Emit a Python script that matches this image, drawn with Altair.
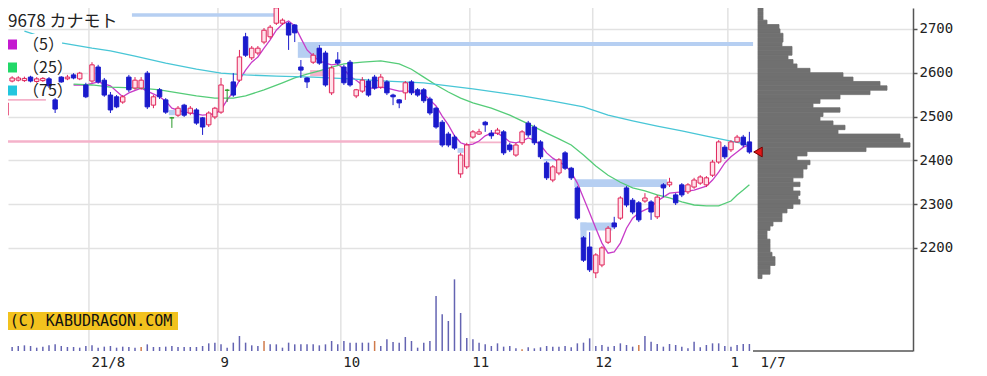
import altair as alt
import pandas as pd

# ---------------- data ----------------
ticker_code = "9678"
ticker_name = "カナモト"
watermark = "(C) KABUDRAGON.COM"

FIRST_IDX = -14  # trading-day index of first candle (0 = 2 Aug 2021)
opens = [2503, 2581, 2583, 2582, 2590, 2580, 2582, 2586, 2538, 2590, 2586, 2595, 2586, 2572,
         2581, 2613, 2583, 2549, 2545, 2533, 2590, 2565, 2565, 2599, 2526, 2561, 2538, 2497,
         2503, 2526, 2508, 2515, 2497, 2481, 2499,
         2510, 2560, 2579, 2583, 2682, 2634, 2645, 2670, 2682, 2713, 2713, 2713, 2709, 2613,
         2588, 2624, 2656, 2645, 2554, 2629,
         2613, 2624, 2547, 2558, 2581, 2590, 2567, 2579, 2549, 2538, 2554, 2579, 2561, 2561,
         2540, 2519, 2487, 2460, 2453, 2369, 2385,
         2453, 2460, 2487, 2462, 2462, 2465, 2435, 2412, 2440, 2485, 2476, 2442, 2394, 2355,
         2371, 2417, 2382, 2337, 2223, 2202,
         2143, 2161, 2213, 2257, 2268, 2337, 2309, 2303, 2307, 2305, 2271, 2344, 2344, 2321,
         2344, 2328, 2339, 2348, 2344, 2366, 2396, 2430,
         2424, 2442, 2453, 2442]
highs = [2549, 2592, 2592, 2591, 2593, 2590, 2590, 2590, 2542, 2592, 2595, 2599, 2602, 2577,
         2624, 2618, 2588, 2556, 2549, 2549, 2595, 2590, 2590, 2604, 2549, 2565, 2542, 2499,
         2524, 2529, 2524, 2519, 2499, 2512, 2522,
         2588, 2563, 2599, 2652, 2691, 2661, 2661, 2702, 2709, 2752, 2724, 2716, 2711, 2629,
         2590, 2645, 2663, 2650, 2615, 2647,
         2618, 2629, 2563, 2590, 2586, 2595, 2597, 2583, 2552, 2540, 2581, 2583, 2565, 2565,
         2545, 2522, 2492, 2465, 2458, 2417, 2440,
         2469, 2472, 2490, 2469, 2474, 2469, 2440, 2440, 2469, 2490, 2481, 2446, 2398, 2389,
         2405, 2421, 2385, 2341, 2227, 2236,
         2188, 2204, 2250, 2271, 2318, 2341, 2314, 2307, 2325, 2309, 2321, 2348, 2360, 2325,
         2348, 2348, 2360, 2366, 2364, 2401, 2446, 2435,
         2446, 2458, 2458, 2465]
lows = [2469, 2578, 2580, 2579, 2578, 2577, 2579, 2565, 2508, 2577, 2583, 2585, 2583, 2542,
        2577, 2575, 2545, 2508, 2519, 2529, 2556, 2561, 2561, 2517, 2519, 2540, 2506, 2474,
        2499, 2499, 2503, 2481, 2458, 2476, 2494,
        2506, 2533, 2545, 2579, 2636, 2629, 2640, 2665, 2677, 2709, 2709, 2652, 2670, 2588,
        2565, 2620, 2618, 2568, 2549, 2618,
        2572, 2568, 2542, 2554, 2545, 2561, 2563, 2549, 2526, 2519, 2538, 2549, 2545, 2531,
        2503, 2472, 2430, 2430, 2424, 2360, 2380,
        2449, 2458, 2465, 2449, 2458, 2412, 2419, 2408, 2435, 2453, 2435, 2403, 2355, 2350,
        2366, 2378, 2355, 2264, 2168, 2145,
        2131, 2156, 2209, 2243, 2264, 2293, 2277, 2259, 2303, 2264, 2266, 2316, 2339, 2298,
        2316, 2323, 2335, 2344, 2339, 2362, 2392, 2403,
        2419, 2440, 2430, 2415]
closes = [2531, 2588, 2588, 2587, 2581, 2586, 2587, 2570, 2517, 2579, 2590, 2588, 2599, 2545,
          2618, 2579, 2549, 2515, 2522, 2545, 2561, 2583, 2583, 2522, 2545, 2545, 2510, 2497,
          2519, 2503, 2519, 2485, 2476, 2508, 2519,
          2572, 2560, 2549, 2636, 2640, 2656, 2656, 2697, 2704, 2748, 2720, 2686, 2691, 2606,
          2579, 2640, 2622, 2572, 2611, 2622,
          2577, 2572, 2561, 2583, 2549, 2565, 2590, 2554, 2545, 2531, 2577, 2554, 2549, 2536,
          2508, 2476, 2435, 2435, 2428, 2412, 2435,
          2465, 2465, 2481, 2456, 2469, 2417, 2424, 2435, 2465, 2458, 2440, 2408, 2360, 2385,
          2401, 2382, 2360, 2268, 2172, 2150,
          2184, 2200, 2245, 2248, 2314, 2298, 2282, 2264, 2314, 2282, 2316, 2337, 2350, 2303,
          2321, 2344, 2355, 2362, 2360, 2396, 2442, 2408,
          2442, 2453, 2435, 2419]
volumes = [20, 12, 15, 17, 15, 10, 13, 17, 20, 15, 12, 12, 10, 15,
           17, 10, 13, 15, 10, 13, 12, 10, 12, 20, 12, 12, 13, 15, 12, 12, 12, 12, 15, 23, 25,
           20, 10, 25, 45, 25, 17, 15, 30, 20, 20, 10, 25, 20, 20, 20, 20, 17, 20, 30, 20,
           30, 25, 25, 25, 25, 30, 15, 35, 27, 25, 42, 30, 10, 25, 30, 165, 110, 90, 215, 114, 39,
           35, 25, 20, 15, 23, 13, 15, 8, 5, 11, 8, 11, 15, 13, 13, 15, 11, 23, 25, 38,
           15, 18, 13, 15, 23, 18, 13, 18, 45, 28, 21, 13, 21, 18, 13, 8, 28, 11, 18, 23, 23, 15,
           13, 18, 21, 21]
vol_highlight_idx = [-14, 8, 28, 46, 70, 89]

# month starts (trading-day index) and their labels; last date label
month_start_idx = [0, 21, 41, 62, 82, 104]
month_labels = ["21/8", "9", "10", "11", "12", "1"]
last_date_label = "1/7"

# moving averages: (index, value)
ma5_idx = [-3, -1, 1, 3, 5, 6, 8, 9, 11, 12, 13, 15, 16, 18, 20, 21, 22, 23, 24, 25, 26, 27, 28,
           29, 30, 31, 32, 33, 34, 35, 36, 37, 38, 39, 40, 41, 42, 43, 44, 45, 46, 47, 48, 50, 52,
           54, 55, 56, 57, 58, 59, 60, 61, 62, 63, 64, 65, 66, 67, 68, 69, 70, 71, 72, 73, 74, 75,
           76, 77, 78, 79, 80, 81, 82, 83, 84, 85, 86, 87, 88, 89, 90, 91, 92, 93, 94, 96, 98, 100,
           101, 102, 103, 104, 105, 106, 107]
ma5_val = [2572, 2572, 2579, 2570, 2545, 2554, 2565, 2558, 2545, 2535, 2519, 2510, 2508, 2503,
           2506, 2515, 2538, 2556, 2583, 2606, 2624, 2636, 2656, 2675, 2697, 2711, 2718, 2707,
           2679, 2652, 2638, 2627, 2622, 2618, 2620, 2608, 2592, 2583, 2572, 2565, 2565, 2567,
           2565, 2558, 2558, 2551, 2538, 2524, 2501, 2481, 2456, 2440, 2435, 2437, 2444, 2456,
           2462, 2462, 2453, 2442, 2440, 2444, 2451, 2446, 2435, 2417, 2405, 2396, 2389, 2373,
           2348, 2314, 2280, 2245, 2211, 2188, 2191, 2211, 2245, 2268, 2280, 2287, 2293, 2307,
           2316, 2325, 2328, 2332, 2341, 2355, 2373, 2394, 2408, 2419, 2430, 2435]
ma25_idx = [-3, 0, 3, 8, 11, 14, 17, 20, 23, 25, 28, 31, 33, 35, 37, 39, 41, 44, 47, 50, 52, 54,
            56, 58, 60, 62, 65, 68, 71, 74, 76, 78, 80, 82, 84, 86, 88, 90, 92, 94, 96, 98, 100,
            102, 104, 105, 106, 107]
ma25_val = [2574, 2572, 2567, 2565, 2561, 2554, 2547, 2542, 2542, 2547, 2561, 2577, 2588, 2597,
            2604, 2613, 2620, 2624, 2627, 2620, 2608, 2590, 2572, 2556, 2542, 2531, 2519, 2503,
            2483, 2462, 2449, 2435, 2412, 2387, 2366, 2350, 2337, 2330, 2321, 2314, 2305, 2298,
            2296, 2296, 2307, 2321, 2332, 2344]
ma75_idx = [-11, -9, -5, 0, 3, 7, 12, 17, 21, 25, 30, 36, 42, 48, 54, 62, 70, 75, 80, 84, 88, 92,
            96, 100, 104, 107]
ma75_val = [2695, 2686, 2668, 2656, 2650, 2638, 2622, 2608, 2599, 2595, 2592, 2590, 2586, 2581,
            2577, 2563, 2547, 2535, 2522, 2503, 2490, 2478, 2467, 2455, 2444, 2435]

# gap / resistance bands: start idx, end idx, low price, high price, kind
band_start = [6.5, 33.5, 36.8, -15, -15, 35.5, 59.5, 78.5, 79.5, 79.5, 12.5, 73.5, 61.5, -15]
band_end = [30, 36.8, 107.6, 56.6, -7.5, 38.5, 60.5, 93.6, 84.7, 80.5, 13.5, 77, 67.5, -13.5]
band_lo = [2728, 2634, 2661, 2440, 2536, 2592, 2417, 2339, 2240, 2220, 2503, 2398, 2439, 2577]
band_hi = [2736, 2670, 2670, 2446, 2540, 2606, 2428, 2357, 2258, 2258, 2515, 2403, 2443, 2588]
band_kind = ["down", "down", "down", "up", "up", "up", "down", "down", "down", "down", "down",
             "down", "up", "down"]

# price-volume profile: bin lower price (10 yen bins) and volume at price
profile_lo = list(range(2740, 2120, -10))
profile_vol = [50, 50, 50, 90, 210, 220, 250, 250, 240, 340, 340, 300, 350, 390, 520, 850, 950,
               1220, 1290, 1120, 820, 620, 550, 820, 650, 620, 750, 870, 800, 1420, 1450, 1520,
               1080, 490, 390, 520, 490, 450, 450, 350, 420, 350, 420, 400, 420, 350, 290, 240,
               240, 150, 120, 90, 90, 120, 120, 120, 140, 170, 170, 120, 120, 40]

# ---------------- tables ----------------
idx = list(range(FIRST_IDX, FIRST_IDX + len(opens)))
cd = pd.DataFrame({"i": idx, "open": opens, "high": highs, "low": lows,
                   "close": closes, "volume": volumes})
cd["dir"] = ["up" if c > o else ("down" if c < o else "even") for o, c in zip(opens, closes)]
cd["vflag"] = ["hl" if i in vol_highlight_idx else "norm" for i in idx]
cd["x0"] = cd["i"] - 0.36
cd["x1"] = cd["i"] + 0.36

ma = pd.concat([
    pd.DataFrame({"i": ma5_idx, "v": ma5_val, "s": "5"}),
    pd.DataFrame({"i": ma25_idx, "v": ma25_val, "s": "25"}),
    pd.DataFrame({"i": ma75_idx, "v": ma75_val, "s": "75"}),
])
bands = pd.DataFrame({"a": band_start, "b": band_end, "lo": band_lo, "hi": band_hi, "k": band_kind})
prof = pd.DataFrame({"lo": profile_lo, "hi": [p + 10 for p in profile_lo], "pv": profile_vol})
prof["p0"] = 0
grid_pos = [s - 0.5 for s in month_start_idx]
vgrid = pd.DataFrame({"g": grid_pos})
last_pos = idx[-1] + 1.4
tick_vals = grid_pos + [last_pos]
tick_labels = month_labels + [last_date_label]
label_expr = ""
for v, t in zip(tick_vals, tick_labels):
    label_expr += f"abs(datum.value - ({v})) < 0.01 ? '{t}' : "
label_expr += "''"

legend_df = pd.DataFrame({"row": ["a", "b", "c"], "txt": ["（5）", "（25）", "（75）"],
                          "s": ["5", "25", "75"]})
marker_df = pd.DataFrame({"p": [0], "price": [closes[-1]]})
frame_df = pd.DataFrame({"a": [-50], "b": [1550]})

# ---------------- scales ----------------
X_DOM = [-13.672, 133.63]
Y_DOM = [1964.67, 2747.74]
xs = alt.Scale(domain=X_DOM, nice=False, zero=False)
ys = alt.Scale(domain=Y_DOM, nice=False, zero=False)
ps = alt.Scale(domain=[-7500, 1550], nice=False, zero=False)
vs = alt.Scale(domain=[0, 1029], nice=False, zero=False)

MONO = "DejaVu Sans Mono"

axis_layer = alt.Chart(cd).mark_point(opacity=0).encode(
    x=alt.X("i:Q", scale=xs, axis=alt.Axis(
        orient="bottom", values=tick_vals, labelExpr=label_expr, grid=False, ticks=False,
        domain=False, labelAlign="left", labelOffset=2, labelPadding=4, labelFont=MONO,
        labelFontSize=14, labelColor="#222", labelFlush=False, labelOverlap=False, title=None)),
    y=alt.Y("close:Q", scale=ys, axis=alt.Axis(
        orient="right", values=[2200, 2300, 2400, 2500, 2600, 2700], format="d", grid=True,
        gridColor="#e2e2e2", gridWidth=1.5, domainColor="#555", domainWidth=1.5,
        tickColor="#555", tickSize=4, tickWidth=1.5, labelFont=MONO, labelFontSize=14,
        labelColor="#222", labelPadding=2, title=None)),
)

vgrid_layer = alt.Chart(vgrid).mark_rule(color="#e2e2e2", strokeWidth=1.5).encode(
    x=alt.X("g:Q", scale=xs, axis=None))

band_layer = alt.Chart(bands).mark_rect(clip=True).encode(
    x=alt.X("a:Q", scale=xs, axis=None), x2="b:Q",
    y=alt.Y("lo:Q", scale=ys, axis=None), y2="hi:Q",
    color=alt.Color("k:N", scale=alt.Scale(domain=["down", "up"], range=["#b6cff2", "#f4b2ca"]),
                    legend=None))

vol_layer = alt.Chart(cd).mark_rule(strokeWidth=1.5, clip=True).encode(
    x=alt.X("i:Q", scale=xs, axis=None),
    y=alt.Y("volume:Q", scale=vs, axis=None), y2=alt.datum(0),
    color=alt.condition("datum.vflag == 'hl'", alt.value("#d07a4a"), alt.value("#6464b2")))

prof_layer = alt.Chart(prof).mark_rect(color="#707070", stroke="#707070", strokeWidth=0.8).encode(
    x=alt.X("p0:Q", scale=ps, axis=None), x2="pv:Q",
    y=alt.Y("lo:Q", scale=ys, axis=None), y2="hi:Q")

ma_layer = alt.Chart(ma).mark_line(strokeWidth=1.3, clip=True).encode(
    x=alt.X("i:Q", scale=xs, axis=None), y=alt.Y("v:Q", scale=ys, axis=None),
    color=alt.Color("s:N", scale=alt.Scale(domain=["5", "25", "75"],
                                           range=["#c83cc8", "#55cc78", "#48c6d6"]), legend=None),
    detail="s:N")

legend_box = alt.Chart(legend_df).mark_rect(color="white").encode(
    x=alt.value(0), x2=alt.value(54), y=alt.value(26), y2=alt.value(90))

dir_dom = ["up", "down", "even"]
wick_layer = alt.Chart(cd).mark_rule(strokeWidth=1, clip=True).encode(
    x=alt.X("i:Q", scale=xs, axis=None),
    y=alt.Y("low:Q", scale=ys, axis=None), y2="high:Q",
    color=alt.Color("dir:N", scale=alt.Scale(domain=dir_dom,
                                             range=["#e0245a", "#1a1acc", "#2a9a2a"]), legend=None))

body_layer = alt.Chart(cd).mark_rect(strokeWidth=1, clip=True).encode(
    x=alt.X("x0:Q", scale=xs, axis=None), x2="x1:Q",
    y=alt.Y("open:Q", scale=ys, axis=None), y2="close:Q",
    fill=alt.Fill("dir:N", scale=alt.Scale(domain=dir_dom,
                                           range=["#ffe2ea", "#1a1acc", "#2a9a2a"]), legend=None),
    stroke=alt.Stroke("dir:N", scale=alt.Scale(domain=dir_dom,
                                               range=["#e0245a", "#1a1acc", "#2a9a2a"]), legend=None))

marker_layer = alt.Chart(marker_df).mark_point(
    shape="triangle-left", filled=True, size=95, color="#e01818", stroke="#7a0000",
    strokeWidth=1, opacity=1).encode(
    x=alt.X("p:Q", scale=ps, axis=None), y=alt.Y("price:Q", scale=ys, axis=None))

frame_layer = alt.Chart(frame_df).mark_rule(color="#555", strokeWidth=1.5).encode(
    x=alt.X("a:Q", scale=ps, axis=None), x2="b:Q", y=alt.value(343))

title_layer = alt.Chart(legend_df.head(1)).mark_text(
    align="left", baseline="middle", font="Noto Sans CJK JP", fontSize=17, color="#222").encode(
    x=alt.value(0), y=alt.value(14), text=alt.value(f"{ticker_code} {ticker_name}"))

row_scale = alt.Scale(type="point", domain=["a", "b", "c"], range=[36.5, 82.5], padding=0)
legend_sq = alt.Chart(legend_df).mark_square(size=100, opacity=1, filled=True).encode(
    x=alt.value(4), y=alt.Y("row:O", scale=row_scale, axis=None),
    color=alt.Color("s:N", scale=alt.Scale(domain=["5", "25", "75"],
                                           range=["#c41ad0", "#22d868", "#22c6de"]), legend=None))
legend_txt = alt.Chart(legend_df).mark_text(
    align="left", baseline="middle", font="Noto Sans CJK JP", fontSize=16, color="#222").encode(
    x=alt.value(15), y=alt.Y("row:O", scale=row_scale, axis=None), text="txt:N")

wm_box = alt.Chart(legend_df.head(1)).mark_rect(color="#f2c21e").encode(
    x=alt.value(0), x2=alt.value(170), y=alt.value(304), y2=alt.value(322))
wm_txt = alt.Chart(legend_df.head(1)).mark_text(
    align="center", baseline="middle", font=MONO, fontSize=15, color="#111").encode(
    x=alt.value(83), y=alt.value(313), text=alt.value(watermark))

chart = alt.layer(
    axis_layer, vgrid_layer, band_layer, vol_layer, prof_layer, ma_layer, legend_box,
    wick_layer, body_layer, marker_layer, frame_layer, title_layer, legend_sq, legend_txt,
    wm_box, wm_txt,
).resolve_scale(
    x="independent", y="independent", color="independent", fill="independent",
    stroke="independent"
).properties(
    width=905, height=343,
    autosize=alt.AutoSizeParams(type="none"),
    padding={"left": 0, "top": 0, "right": 60, "bottom": 22},
    background="white",
).configure_view(stroke=None)

chart.save("out.html", embed_options={"renderer": "svg", "actions": False})
